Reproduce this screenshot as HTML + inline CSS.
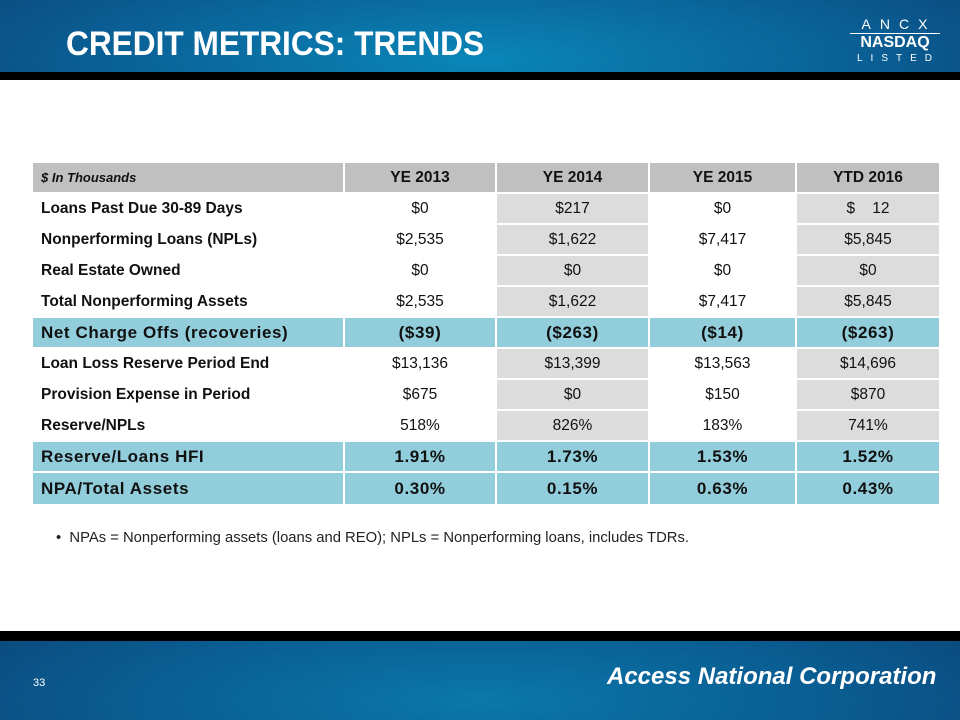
<!DOCTYPE html>
<html><head><meta charset="utf-8"><style>
*{margin:0;padding:0;box-sizing:border-box}
body{width:960px;height:720px;position:relative;background:#fff;font-family:"Liberation Sans",Arial,sans-serif;overflow:hidden}
.hdr{position:absolute;left:0;top:0;width:960px;height:72px;background:radial-gradient(ellipse 700px 160px at 480px 60px,#0a86b8,#0a5f95 55%,#0b3f72)}
.blk1{position:absolute;left:0;top:72px;width:960px;height:8px;background:#000}
.ftrb{position:absolute;left:0;top:631px;width:960px;height:10px;background:#000}
.ftr{position:absolute;left:0;top:641px;width:960px;height:79px;background:radial-gradient(ellipse 700px 160px at 480px 60px,#0a78ab,#0a5a8f 55%,#0b3f72)}
.title{position:absolute;left:66px;top:25px;color:#fff;font-weight:bold;font-size:34px;transform:scaleX(.93);transform-origin:left top;white-space:nowrap}
.cell{position:absolute;display:flex;align-items:center;justify-content:center;font-size:15.5px;color:#111;border-right:2px solid #fff;border-bottom:2px solid #fff;white-space:pre}
.lbl{justify-content:flex-start;padding-left:8px;font-weight:bold;font-size:15.5px}
</style></head><body>
<div class="hdr"></div>
<div class="blk1"></div>
<div class="title">CREDIT METRICS: TRENDS</div>
<div style="position:absolute;left:850px;top:17px;width:90px;color:#fff;text-align:center">
 <div style="font-size:14px;letter-spacing:9px;line-height:15px;padding-left:8px">ANCX</div>
 <div style="border-top:1px solid #fff;font-size:16px;font-weight:bold;line-height:18px;margin-top:1px">NASDAQ</div>
 <div style="font-size:10px;letter-spacing:8px;line-height:14px;padding-left:7px">LISTED</div>
</div>
<div id="tbl"></div>
<div style="position:absolute;left:56px;top:530px;font-size:14.8px;color:#222">•&nbsp;&nbsp;NPAs = Nonperforming assets (loans and REO); NPLs = Nonperforming loans, includes TDRs.</div>
<div class="ftrb"></div>
<div class="ftr"></div>
<div style="position:absolute;left:33px;top:677px;color:#fff;font-size:11px">33</div>
<div style="position:absolute;left:607px;top:663px;color:#fff;font-size:24px;font-weight:bold;font-style:italic;white-space:nowrap">Access National Corporation</div>
<script>
const headers=["$ In Thousands","YE 2013","YE 2014","YE 2015","YTD 2016"];
const labels=["Loans Past Due 30-89 Days","Nonperforming Loans (NPLs)","Real Estate Owned","Total Nonperforming Assets","Net Charge Offs (recoveries)","Loan Loss Reserve Period End","Provision Expense in Period","Reserve/NPLs","Reserve/Loans HFI","NPA/Total Assets"];
const ye2013=["$0","$2,535","$0","$2,535","($39)","$13,136","$675","518%","1.91%","0.30%"];
const ye2014=["$217","$1,622","$0","$1,622","($263)","$13,399","$0","826%","1.73%","0.15%"];
const ye2015=["$0","$7,417","$0","$7,417","($14)","$13,563","$150","183%","1.53%","0.63%"];
const ytd2016=["$    12","$5,845","$0","$5,845","($263)","$14,696","$870","741%","1.52%","0.43%"];
const highlight=[4,8,9];
const colX=[33,345,497,650,797,941];
const tbl=document.getElementById('tbl');
function mk(x,y,w,h,txt,bg,cls,extra){
 const d=document.createElement('div');
 d.className='cell '+(cls||'');
 d.style.cssText=`left:${x}px;top:${y}px;width:${w}px;height:${h}px;background:${bg};`+(extra||'');
 d.textContent=txt;
 
 
 tbl.appendChild(d);
}
const top0=163,hh=31,rh=31;
headers.forEach((t,c)=>mk(colX[c],top0,colX[c+1]-colX[c],hh,t,'#c0c0c0',c==0?'lbl':'',c==0?'font-style:italic;font-size:13px;':'font-weight:bold;font-size:15.5px;'));
const cols=[ye2013,ye2014,ye2015,ytd2016];
labels.forEach((l,r)=>{
 const y=top0+hh+r*rh;
 const hl=highlight.includes(r);
 const h=r==9?33:rh;
 mk(colX[0],y,colX[1]-colX[0],h,l,hl?'#92cddc':'#fff','lbl',hl?'font-size:17px;letter-spacing:0.6px;':'');
 cols.forEach((arr,c)=>{
  const bg=hl?'#92cddc':(c%2==1?'#dcdcdc':'#fff');
  mk(colX[c+1],y,colX[c+2]-colX[c+1],h,arr[r],bg,'',hl?'font-weight:bold;font-size:17px;letter-spacing:0.6px;':'');
 });
});
</script>
</body></html>
